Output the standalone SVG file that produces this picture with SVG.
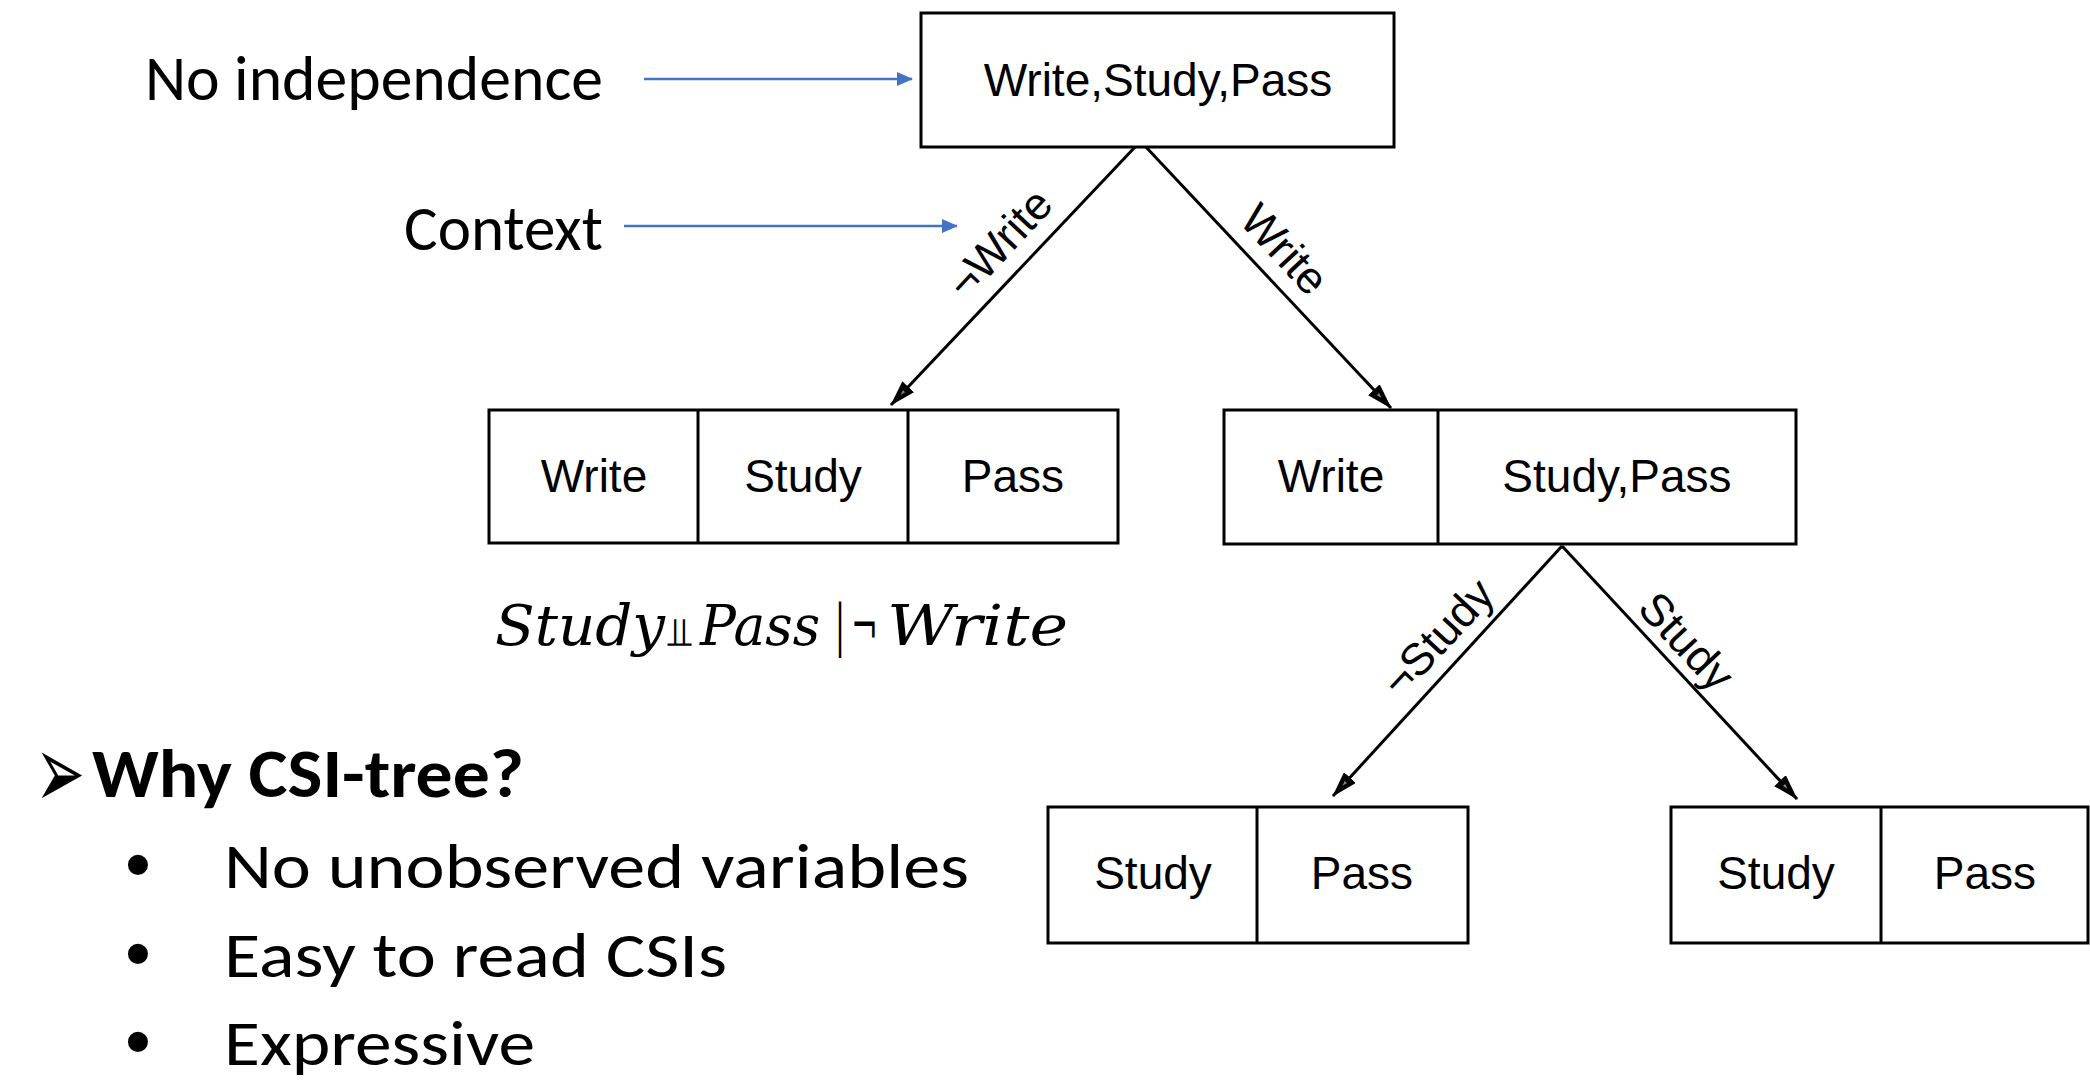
<svg xmlns="http://www.w3.org/2000/svg" width="2090" height="1091" viewBox="0 0 2090 1091">
<style>
.box{fill:#fff;stroke:#000;stroke-width:3}
.div{stroke:#000;stroke-width:3}
.lbl{font-family:"Liberation Sans",Arial,sans-serif;font-size:46px;fill:#000;text-anchor:middle}
.elbl{font-family:"Liberation Sans",Arial,sans-serif;font-size:45px;fill:#000;text-anchor:middle}
.edge{stroke:#000;stroke-width:3;fill:none;marker-end:url(#ah)}
.blue{stroke:#4472C4;stroke-width:2.5;fill:none;marker-end:url(#bh)}
.cal{font-family:Carlito,Lato,"Open Sans",sans-serif;fill:#000}
.math{font-family:"DejaVu Serif","Liberation Serif",serif;font-style:italic;font-size:56px;fill:#000}
.bul{font-family:"Liberation Sans",Arial,sans-serif;font-size:74px;fill:#000;text-anchor:middle}
</style>
<defs>
<marker id="ah" markerUnits="userSpaceOnUse" viewBox="0 0 26 16" refX="25" refY="8" markerWidth="26" markerHeight="16" orient="auto">
<path d="M0,0 L26,8 L0,16 Z" fill="#000"/>
<path d="M6,6.5 L11,8 L6,9.5 Z" fill="#888"/>
</marker>
<marker id="bh" markerUnits="userSpaceOnUse" viewBox="0 0 16 14" refX="15" refY="7" markerWidth="16" markerHeight="14" orient="auto">
<path d="M0,0 L16,7 L0,14 Z" fill="#4472C4"/>
</marker>
</defs>
<rect width="2090" height="1091" fill="#fff"/>

<g id="connectors">
<line class="edge" x1="1136" y1="146" x2="891" y2="405"/>
<line class="edge" x1="1145" y1="146" x2="1391" y2="408"/>
<line class="edge" x1="1562" y1="546" x2="1333" y2="796"/>
<line class="edge" x1="1562" y1="546" x2="1797" y2="799"/>
<line class="blue" x1="644" y1="79" x2="912" y2="79"/>
<line class="blue" x1="624" y1="226" x2="957" y2="226"/>
<text class="elbl" transform="translate(999,243) rotate(-47)" y="16">¬Write</text>
<text class="elbl" transform="translate(1285,249) rotate(47)" y="16">Write</text>
<text class="elbl" transform="translate(1437,637) rotate(-47)" y="16">¬Study</text>
<text class="elbl" transform="translate(1687,641) rotate(47)" y="16">Study</text>
</g>

<g id="node-root">
<rect class="box" x="921" y="13" width="473" height="134"/>
<text class="lbl" x="1158" y="96">Write,Study,Pass</text>
</g>

<g id="node-notwrite">
<rect class="box" x="489" y="410" width="629" height="133"/>
<line class="div" x1="698" y1="410" x2="698" y2="543"/>
<line class="div" x1="908" y1="410" x2="908" y2="543"/>
<text class="lbl" x="594" y="492">Write</text>
<text class="lbl" x="803" y="492">Study</text>
<text class="lbl" x="1013" y="492">Pass</text>
</g>

<g id="node-write">
<rect class="box" x="1224" y="410" width="572" height="134"/>
<line class="div" x1="1438" y1="410" x2="1438" y2="544"/>
<text class="lbl" x="1331" y="492">Write</text>
<text class="lbl" x="1617" y="492">Study,Pass</text>
</g>

<g id="node-notstudy">
<rect class="box" x="1048" y="807" width="420" height="136"/>
<line class="div" x1="1257" y1="807" x2="1257" y2="943"/>
<text class="lbl" x="1153" y="889">Study</text>
<text class="lbl" x="1362" y="889">Pass</text>
</g>

<g id="node-study">
<rect class="box" x="1671" y="807" width="417" height="136"/>
<line class="div" x1="1881" y1="807" x2="1881" y2="943"/>
<text class="lbl" x="1776" y="889">Study</text>
<text class="lbl" x="1985" y="889">Pass</text>
</g>

<g id="annotations">
<text class="cal" x="145" y="100" font-size="63" textLength="458" lengthAdjust="spacingAndGlyphs">No independence</text>
<text class="cal" x="404" y="250" font-size="63" textLength="199" lengthAdjust="spacingAndGlyphs">Context</text>
<text class="math" y="645"><tspan x="495" textLength="170" lengthAdjust="spacingAndGlyphs">Study</tspan><tspan x="667" font-style="normal" font-family="DejaVu Sans,sans-serif" font-size="40" textLength="24" lengthAdjust="spacingAndGlyphs">⫫</tspan><tspan x="700" textLength="120" lengthAdjust="spacingAndGlyphs">Pass</tspan><tspan x="835" font-style="normal" textLength="10" lengthAdjust="spacingAndGlyphs">|</tspan><tspan x="851" font-style="normal" textLength="27" lengthAdjust="spacingAndGlyphs">¬</tspan><tspan x="887" textLength="181" lengthAdjust="spacingAndGlyphs">Write</tspan></text>
<text x="35" y="808" font-family="DejaVu Sans,sans-serif" font-size="104" fill="#000" textLength="50" lengthAdjust="spacingAndGlyphs">➢</text>
<text class="cal" x="92" y="797" font-size="68" font-weight="bold" textLength="432" lengthAdjust="spacingAndGlyphs">Why CSI-tree?</text>
<text class="bul" x="138" y="890">•</text>
<text class="bul" x="138" y="979">•</text>
<text class="bul" x="138" y="1067">•</text>
<text class="cal" x="224" y="888" font-size="64" textLength="745" lengthAdjust="spacingAndGlyphs">No unobserved variables</text>
<text class="cal" x="224" y="977" font-size="64" textLength="503" lengthAdjust="spacingAndGlyphs">Easy to read CSIs</text>
<text class="cal" x="224" y="1065" font-size="64" textLength="311" lengthAdjust="spacingAndGlyphs">Expressive</text>
</g>
</svg>
